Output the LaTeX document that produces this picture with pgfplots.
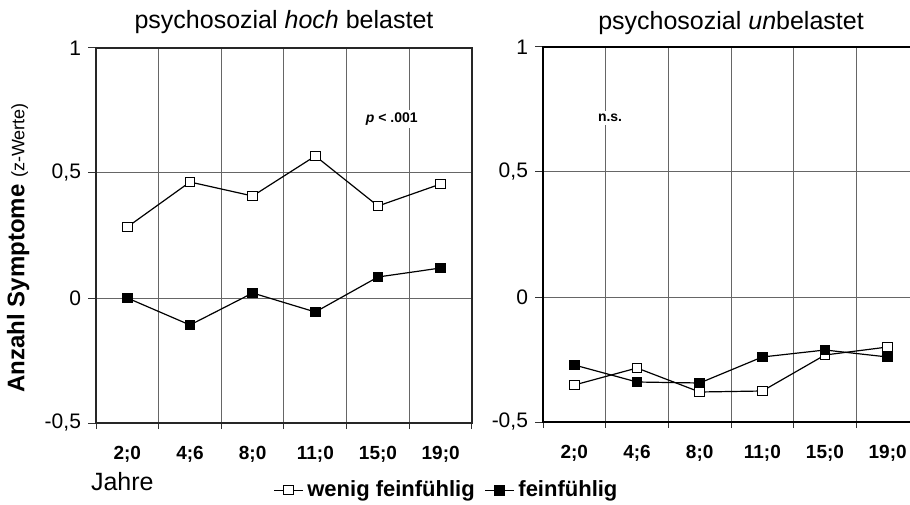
\documentclass[border=0pt]{standalone}
\usepackage{pgfplots}
\pgfplotsset{compat=1.18}
\usepackage{fontspec}
\setmainfont{Liberation Sans}
\pgfplotsset{
  panel/.style={
    scale only axis, width=188pt, height=187.5pt,
    xmin=0.5, xmax=6.5, ymin=-0.5, ymax=1,
    xtick={1,...,6}, xticklabels={2;0,4;6,8;0,11;0,15;0,19;0},
    minor xtick={0.5,1.5,...,6.5},
    ytick={-0.5,0,0.5,1}, yticklabels={{-0,5},0,{0,5},1},
    xmajorgrids=false, xminorgrids=true, ymajorgrids=true,
    grid style={black!60, line width=0.5pt},
    minor grid style={black!60, line width=0.5pt},
    tick pos=left, tick align=outside,
    major x tick style={draw=none},
    major tick length=4pt, minor tick length=3pt,
    tick style={black!80, line width=0.5pt},
    minor tick style={black!80, line width=0.5pt},
    yticklabel style={font=\fontsize{10.5}{12}\selectfont},
    xticklabel style={font=\bfseries\fontsize{9.5}{11}\selectfont, yshift=-4pt},
    title style={font=\fontsize{12.5}{14}\selectfont, at={(0.5,1)}, anchor=base},
    legend image code/.code={\draw[mark repeat=2,mark phase=2] plot coordinates {(0cm,0cm) (0.25cm,0cm) (0.5cm,0cm)};},
  },
  wenig/.style={black, line width=0.6pt, mark=square*, mark size=2.4pt, mark options={fill=white, solid, line width=0.5pt}},
  fein/.style={black, line width=0.6pt, mark=square*, mark size=2.4pt, mark options={fill=black, solid}},
}
\begin{document}
\begin{tikzpicture}
\useasboundingbox (0,0) rectangle (455pt,252pt);
\begin{axis}[panel,
  at={(48pt,40.5pt)}, anchor=south west,
  axis line style={black!85, line width=0.7pt},
  title={psychosozial \textit{hoch} belastet},
  title style={yshift=3.5pt},
  ylabel={\bfseries\fontsize{12}{14}\selectfont Anzahl Symptome {\normalfont\fontsize{9}{11}\selectfont(z-Werte)}},
  ylabel style={at={(axis description cs:-0.207,0.467)}, anchor=center},
  legend style={at={(axis description cs:0.935,-0.179)}, anchor=center, draw=none, fill=none,
    font=\bfseries\fontsize{11}{13}\selectfont, legend columns=2,
    /tikz/every even column/.append style={column sep=3pt}},
]
\addplot[wenig] coordinates {(1,0.284) (2,0.464) (3,0.408) (4,0.568) (5,0.368) (6,0.456)};
\addlegendentry{wenig feinfühlig}
\addplot[fein] coordinates {(1,0.0) (2,-0.108) (3,0.02) (4,-0.056) (5,0.084) (6,0.12)};
\addlegendentry{feinfühlig}
\node[fill=white, inner sep=1.5pt, font=\bfseries\fontsize{7}{8}\selectfont] at (axis cs:5.22,0.716) {\textit{p} < .001};
\end{axis}
\begin{axis}[panel,
  at={(271.5pt,41pt)}, anchor=south west,
  axis line style={black, line width=1pt},
  title={psychosozial \textit{un}belastet},
  title style={yshift=2.5pt},
]
\addplot[wenig] coordinates {(1,-0.352) (2,-0.284) (3,-0.38) (4,-0.376) (5,-0.232) (6,-0.2)};
\addplot[fein] coordinates {(1,-0.272) (2,-0.34) (3,-0.344) (4,-0.24) (5,-0.212) (6,-0.24)};
\node[fill=white, inner sep=1.5pt, font=\bfseries\fontsize{7}{8}\selectfont] at (axis cs:1.57,0.716) {n.s.};
\end{axis}
\node[anchor=west, font=\fontsize{12.5}{14}\selectfont] at (42pt,11pt) {Jahre};
\end{tikzpicture}
\end{document}
